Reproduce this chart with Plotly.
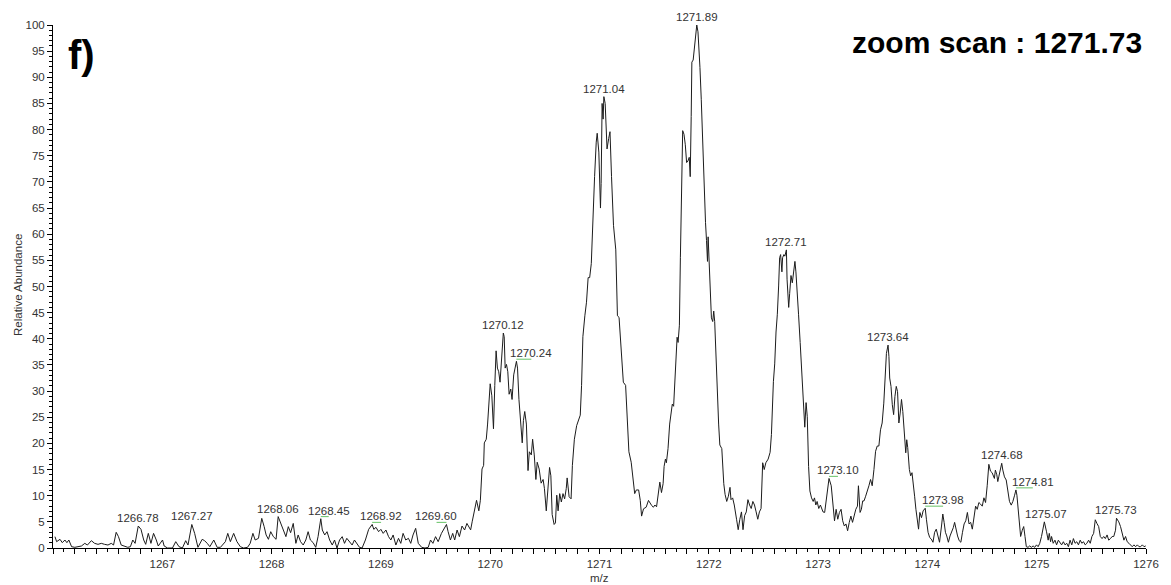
import numpy as np
import plotly.graph_objects as go

# ---------------------------------------------------------------
# Profile spectrum (relative abundance vs m/z), stored per region
# ---------------------------------------------------------------
mz_a = [1266.018, 1266.033, 1266.064, 1266.085, 1266.109, 1266.127, 1266.145, 1266.170, 1266.200, 1266.230,
        1266.260, 1266.291, 1266.315, 1266.351, 1266.381, 1266.412, 1266.442, 1266.472, 1266.503, 1266.533,
        1266.554, 1266.578, 1266.599, 1266.624, 1266.654, 1266.684, 1266.708, 1266.730, 1266.751, 1266.780,
        1266.805, 1266.830, 1266.848, 1266.872, 1266.896, 1266.920, 1266.945, 1266.963, 1267.002, 1267.017,
        1267.048, 1267.093, 1267.123, 1267.153, 1267.184, 1267.214, 1267.235, 1267.270, 1267.296, 1267.326,
        1267.365, 1267.387, 1267.411, 1267.435, 1267.471, 1267.502, 1267.532, 1267.577, 1267.599, 1267.623,
        1267.653, 1267.683, 1267.714, 1267.744, 1267.780, 1267.804, 1267.829, 1267.850, 1267.880, 1267.910,
        1267.932, 1267.950, 1267.971, 1267.992, 1268.016, 1268.041, 1268.060, 1268.083, 1268.107, 1268.131,
        1268.153, 1268.174, 1268.198]
ab_a = [2.17, 1.21, 1.66, 1.02, 1.53, 1.02, 1.53, 0.25, 0.13, 0.25,
        0.38, 0.89, 0.57, 1.40, 0.89, 0.70, 0.89, 0.70, 0.57, 0.89,
        0.57, 3.0, 2.17, 0.57, 0.38, 0.13, 0.25, 1.53, 0.89, 4.2,
        3.57, 1.53, 0.70, 2.8, 0.89, 2.8, 1.53, 0.38, 1.53, 0.38,
        0.0, 0.0, 1.21, 0.25, 0.0, 1.40, 0.57, 4.5, 2.8, 0.13,
        1.66, 1.40, 0.89, 0.25, 1.53, 0.13, 0.13, 1.21, 2.8, 1.21,
        2.8, 1.21, 0.25, 0.0, 0.13, 0.89, 2.8, 1.53, 1.85, 5.67,
        4.08, 2.49, 1.66, 3.12, 2.17, 1.66, 6.0, 4.7, 3.12, 2.17,
        4.08, 2.93, 4.7]

mz_b = [1268.222, 1268.243, 1268.265, 1268.289, 1268.313, 1268.334, 1268.355, 1268.380, 1268.404, 1268.425,
        1268.450, 1268.464, 1268.486, 1268.507, 1268.531, 1268.555, 1268.576, 1268.598, 1268.622, 1268.646,
        1268.667, 1268.688, 1268.713, 1268.737, 1268.758, 1268.779, 1268.804, 1268.828, 1268.858, 1268.888,
        1268.920, 1268.935, 1268.955, 1268.979, 1269.000, 1269.021, 1269.046, 1269.070, 1269.091, 1269.112,
        1269.137, 1269.161, 1269.182, 1269.203, 1269.227, 1269.252, 1269.273, 1269.294, 1269.318, 1269.342,
        1269.373, 1269.403, 1269.433, 1269.454, 1269.476, 1269.500, 1269.524, 1269.554, 1269.600, 1269.615,
        1269.636, 1269.657, 1269.675, 1269.697, 1269.718, 1269.742, 1269.766, 1269.787]
ab_b = [0.89, 2.49, 1.21, 0.57, 1.53, 3.12, 1.53, 1.02, 0.13, 2.17,
        5.6, 3.44, 2.49, 3.12, 1.53, 0.57, 1.53, 0.0, 1.53, 2.17,
        0.89, 1.85, 1.21, 0.57, 1.53, 0.89, 0.13, 0.0, 1.53, 3.57,
        4.5, 3.57, 3.95, 3.12, 3.57, 2.8, 3.44, 2.17, 1.53, 2.49,
        0.57, 1.85, 0.89, 2.8, 1.53, 1.85, 0.89, 2.49, 3.76, 0.89,
        0.13, 0.0, 0.13, 1.53, 0.89, 2.17, 1.21, 2.8, 4.5, 3.12,
        1.53, 2.8, 1.53, 3.44, 2.17, 4.2, 3.44, 4.7]

mz_c = [1269.821, 1269.836, 1269.857, 1269.875, 1269.896, 1269.910, 1269.925, 1269.940, 1269.946, 1269.964,
        1269.976, 1269.988, 1270.000, 1270.015, 1270.030, 1270.042, 1270.054, 1270.066, 1270.078, 1270.090,
        1270.101, 1270.120, 1270.128, 1270.137, 1270.149, 1270.161, 1270.173, 1270.188, 1270.200, 1270.215,
        1270.240, 1270.250, 1270.263, 1270.278, 1270.293, 1270.304, 1270.316, 1270.331, 1270.346, 1270.358,
        1270.376, 1270.388, 1270.403, 1270.418, 1270.430, 1270.448, 1270.466, 1270.484, 1270.496, 1270.513,
        1270.528, 1270.543, 1270.555, 1270.567, 1270.585, 1270.597, 1270.609, 1270.621, 1270.636, 1270.651,
        1270.666, 1270.681, 1270.696, 1270.704, 1270.722, 1270.740, 1270.752, 1270.770, 1270.791, 1270.806,
        1270.824, 1270.836, 1270.848, 1270.866, 1270.881, 1270.896, 1270.910, 1270.925, 1270.940, 1270.955,
        1270.970, 1270.979, 1270.994, 1271.009, 1271.015, 1271.024, 1271.033, 1271.040, 1271.052, 1271.069,
        1271.084, 1271.096, 1271.110, 1271.128, 1271.149, 1271.164, 1271.179, 1271.194, 1271.218, 1271.239,
        1271.254, 1271.269, 1271.290, 1271.307, 1271.322, 1271.337, 1271.358, 1271.373, 1271.385, 1271.403,
        1271.427, 1271.448, 1271.463, 1271.478, 1271.493]
ab_c = [3.46, 5.12, 7.11, 9.12, 7.11, 9.12, 15.1, 15.8, 20.1, 20.8,
        23.7, 27.7, 31.4, 29.1, 22.8, 31.1, 37.7, 34.4, 33.7, 31.7,
        35.7, 41.1, 40.4, 34.4, 35.1, 33.7, 29.4, 30.4, 28.4, 33.1,
        35.7, 34.4, 28.4, 23.7, 20.1, 24.4, 26.1, 23.7, 14.8, 18.4,
        17.8, 20.8, 17.8, 13.1, 16.4, 15.1, 12.4, 13.1, 11.4, 7.1,
        11.8, 15.4, 13.8, 6.4, 4.5, 4.8, 10.1, 7.1, 10.4, 8.8,
        10.4, 9.4, 11.4, 13.4, 9.8, 9.4, 15.8, 20.8, 23.4, 24.4,
        25.4, 31.1, 40.4, 44.4, 47.0, 51.7, 51.7, 54.4, 63.7, 71.0,
        77.6, 79.3, 75.7, 65.0, 69.7, 85.0, 82.0, 86.3, 85.0, 76.3,
        78.3, 79.6, 71.0, 61.7, 57.0, 44.4, 44.1, 39.7, 31.7, 31.1,
        23.7, 18.4, 16.4, 12.4, 10.4, 11.1, 11.1, 9.1, 6.1, 7.5,
        7.8, 9.1, 8.5, 8.1, 7.8]

mz_d = [1271.507, 1271.522, 1271.537, 1271.552, 1271.567, 1271.582, 1271.591, 1271.603, 1271.612, 1271.627,
        1271.642, 1271.657, 1271.666, 1271.678, 1271.690, 1271.701, 1271.710, 1271.719, 1271.731, 1271.740,
        1271.749, 1271.755, 1271.761, 1271.773, 1271.785, 1271.797, 1271.809, 1271.821, 1271.830, 1271.839,
        1271.845, 1271.857, 1271.869, 1271.881, 1271.890, 1271.901, 1271.910, 1271.919, 1271.931, 1271.943,
        1271.955, 1271.970, 1271.979, 1271.988, 1271.994, 1272.003, 1272.015, 1272.024, 1272.036, 1272.045,
        1272.054, 1272.066, 1272.078, 1272.090, 1272.101, 1272.119, 1272.137, 1272.149, 1272.164, 1272.179,
        1272.194, 1272.203, 1272.218, 1272.233, 1272.254, 1272.269, 1272.284, 1272.299, 1272.313, 1272.328,
        1272.343, 1272.358, 1272.373, 1272.388, 1272.403, 1272.418, 1272.433, 1272.448, 1272.463, 1272.478,
        1272.493, 1272.507, 1272.522, 1272.543, 1272.561, 1272.573, 1272.591, 1272.603, 1272.615, 1272.627,
        1272.639, 1272.648, 1272.657, 1272.669, 1272.675, 1272.687, 1272.696, 1272.710, 1272.716, 1272.731,
        1272.740, 1272.752, 1272.764, 1272.776, 1272.788, 1272.797, 1272.812, 1272.821, 1272.836, 1272.851,
        1272.866, 1272.878, 1272.890, 1272.901, 1272.913, 1272.925, 1272.940, 1272.955, 1272.967, 1272.979,
        1272.991, 1273.006, 1273.021, 1273.033, 1273.045]
ab_d = [8.22, 7.88, 10.25, 12.6, 10.6, 12.3, 15.6, 17.0, 16.3, 19.0,
        23.7, 26.4, 27.5, 27.1, 33.2, 38.6, 40.3, 39.3, 42.6, 55.5,
        67.6, 75.7, 79.8, 79.1, 77.1, 73.7, 74.0, 74.7, 71.0, 82.5,
        92.9, 93.3, 96.0, 97.6, 100.0, 98.7, 96.0, 91.9, 85.8, 77.7,
        70.3, 62.2, 58.8, 54.8, 59.5, 54.8, 45.3, 44.0, 43.3, 45.3,
        43.3, 35.9, 28.5, 23.7, 19.7, 19.0, 12.3, 10.25, 8.9, 9.9,
        11.6, 9.24, 9.58, 8.22, 5.5, 3.5, 5.5, 6.9, 3.5, 6.2,
        6.9, 9.24, 8.22, 7.55, 8.9, 8.22, 6.9, 5.5, 6.9, 7.55,
        16.3, 15.0, 16.3, 17.0, 18.3, 21.7, 31.8, 35.2, 41.3, 44.7,
        50.1, 55.5, 56.1, 52.8, 55.5, 56.1, 55.8, 57.0, 51.4, 46.0,
        48.7, 52.1, 50.7, 53.4, 54.8, 52.8, 48.7, 44.7, 39.3, 33.9,
        29.1, 23.1, 27.8, 25.1, 15.6, 10.9, 9.58, 8.9, 9.58, 8.22,
        8.9, 7.55, 8.22, 7.55, 6.9]

mz_e = [1273.060, 1273.075, 1273.090, 1273.100, 1273.120, 1273.135, 1273.150, 1273.165, 1273.180, 1273.195,
        1273.210, 1273.225, 1273.240, 1273.255, 1273.270, 1273.285, 1273.300, 1273.315, 1273.330, 1273.345,
        1273.360, 1273.369, 1273.384, 1273.396, 1273.408, 1273.420, 1273.435, 1273.450, 1273.465, 1273.480,
        1273.495, 1273.511, 1273.526, 1273.541, 1273.556, 1273.571, 1273.586, 1273.601, 1273.616, 1273.625,
        1273.640, 1273.648, 1273.655, 1273.667, 1273.679, 1273.691, 1273.703, 1273.715, 1273.727, 1273.739,
        1273.751, 1273.763, 1273.775, 1273.787, 1273.802, 1273.811, 1273.820, 1273.835, 1273.847, 1273.859,
        1273.871, 1273.883, 1273.895, 1273.907, 1273.919, 1273.931, 1273.946, 1273.961, 1273.980, 1273.991,
        1274.006, 1274.021, 1274.036, 1274.051, 1274.066, 1274.081, 1274.096, 1274.111, 1274.129, 1274.141,
        1274.153, 1274.165, 1274.177, 1274.192, 1274.207, 1274.222, 1274.237, 1274.249, 1274.261, 1274.276,
        1274.291, 1274.306, 1274.321, 1274.336, 1274.351, 1274.366, 1274.381, 1274.396, 1274.411, 1274.426,
        1274.441, 1274.456, 1274.471, 1274.486, 1274.502, 1274.517, 1274.532, 1274.547, 1274.562, 1274.577,
        1274.592]
ab_e = [6.8, 9.3, 11.9, 13.3, 11.9, 8.0, 5.2, 7.4, 5.5, 6.8,
        7.4, 5.2, 4.2, 4.6, 3.3, 4.9, 6.1, 4.9, 6.1, 7.4,
        8.0, 11.9, 6.8, 7.4, 9.0, 9.0, 9.9, 11.2, 11.9, 13.1,
        11.9, 15.0, 18.5, 19.5, 19.5, 22.6, 23.9, 27.7, 33.4, 37.2,
        38.8, 36.6, 32.5, 30.9, 27.4, 25.5, 29.0, 30.9, 29.9, 23.9,
        25.8, 28.4, 26.1, 21.4, 18.2, 20.7, 19.2, 15.0, 13.8, 14.4,
        12.5, 9.9, 7.4, 5.5, 3.6, 6.8, 5.8, 7.1, 7.6, 5.5,
        3.0, 2.0, 1.7, 1.1, 3.0, 3.6, 2.3, 1.1, 4.2, 6.5,
        4.9, 3.0, 2.3, 1.1, 2.3, 3.0, 3.9, 4.9, 3.6, 2.3,
        1.4, 1.1, 3.0, 4.6, 5.2, 6.8, 4.6, 4.9, 3.6, 5.5,
        8.0, 7.4, 8.7, 8.4, 8.0, 9.6, 8.7, 11.9, 16.0, 14.7,
        14.4]

mz_f = [1274.613, 1274.622, 1274.635, 1274.644, 1274.653, 1274.665, 1274.680, 1274.690, 1274.705, 1274.721,
        1274.736, 1274.751, 1274.767, 1274.782, 1274.798, 1274.810, 1274.819, 1274.831, 1274.844, 1274.853,
        1274.868, 1274.881, 1274.893, 1274.905, 1274.921, 1274.936, 1274.951, 1274.967, 1274.982, 1274.998,
        1275.013, 1275.028, 1275.044, 1275.059, 1275.070, 1275.090, 1275.105, 1275.115, 1275.127, 1275.136,
        1275.151, 1275.167, 1275.182, 1275.198, 1275.213, 1275.228, 1275.244, 1275.259, 1275.275, 1275.290,
        1275.305, 1275.321, 1275.336, 1275.351, 1275.367, 1275.382, 1275.398, 1275.413, 1275.428, 1275.444,
        1275.459, 1275.475, 1275.490, 1275.505, 1275.521, 1275.536, 1275.551, 1275.567, 1275.582, 1275.598,
        1275.613, 1275.628, 1275.644, 1275.659, 1275.675, 1275.690, 1275.705, 1275.721, 1275.730, 1275.751,
        1275.767, 1275.782, 1275.798, 1275.813, 1275.828, 1275.844, 1275.859, 1275.874, 1275.890, 1275.905,
        1275.921, 1275.936, 1275.951, 1275.967, 1275.982, 1275.998]
ab_f = [13.3, 14.9, 14.0, 12.7, 13.6, 14.9, 16.2, 14.9, 13.6, 13.0,
        10.8, 8.9, 8.2, 8.9, 10.1, 11.1, 10.1, 6.9, 5.0, 2.2,
        3.4, 4.1, 2.2, 0.25, 0.13, 0.4, 0.13, 0.4, 0.13, 0.6,
        0.25, 0.9, 2.2, 4.1, 5.0, 3.1, 1.5, 2.8, 1.2, 2.2,
        0.9, 1.5, 0.6, 1.5, 0.9, 0.6, 1.2, 0.6, 0.9, 0.25,
        1.5, 0.6, 1.8, 0.9, 1.2, 0.6, 1.5, 0.9, 1.2, 0.6,
        0.9, 1.5, 0.9, 2.2, 2.8, 5.4, 4.7, 4.1, 2.2, 1.8,
        2.2, 1.8, 2.5, 1.5, 1.8, 2.2, 2.2, 3.4, 5.7, 5.0,
        4.1, 2.8, 1.5, 2.2, 1.2, 0.9, 0.6, 0.25, 0.6, 0.25,
        0.6, 0.25, 0.25, 0.6, 0.25, 0.4]

# Labelled peaks: m/z and apex abundance
peak_mz = [1266.78, 1267.27, 1268.06, 1268.45, 1268.92, 1269.60, 1270.12, 1270.24, 1271.04,
           1271.89, 1272.71, 1273.10, 1273.64, 1273.98, 1274.68, 1274.81, 1275.07, 1275.73]
peak_ab = [4.2, 4.5, 6.0, 5.6, 4.5, 4.5, 41.1, 35.7, 86.3,
           100.0, 57.0, 13.3, 38.8, 7.6, 16.2, 11.1, 5.0, 5.7]

x_tick_labels = [1267, 1268, 1269, 1270, 1271, 1272, 1273, 1274, 1275, 1276]

# ---------------------------------------------------------------
# Layout constants
# ---------------------------------------------------------------
W, H = 1171, 585
ML, MR, MT, MB = 53, 17, 25, 37
X_RANGE = [1266, 1276]
px_per_mz = (W - ML - MR) / (X_RANGE[1] - X_RANGE[0])

# label text offset (px) from its apex; a green leader is drawn when offset
label_dx = [0, 0, 0, 8, 9, -10, 0, 15, 0, 0, 0, 9, 0, 18, 0, 17, 2, 0]

FONT = "Arial, Liberation Sans, sans-serif"
TXT = "#333333"

mz = np.concatenate([mz_a, mz_b, mz_c, mz_d, mz_e, mz_f])
ab = np.concatenate([ab_a, ab_b, ab_c, ab_d, ab_e, ab_f])

fig = go.Figure()
fig.add_trace(go.Scatter(
    x=mz, y=ab, mode="lines",
    line=dict(color="#1c1c1c", width=1),
    hoverinfo="skip", showlegend=False,
))

# peak labels with optional leader lines
for m, a, dx in zip(peak_mz, peak_ab, label_dx):
    fig.add_annotation(
        x=m, y=a, text=f"{m:.2f}", showarrow=False,
        xshift=dx, yshift=8, xanchor="center", yanchor="middle",
        font=dict(family=FONT, size=11.5, color=TXT),
    )
    if abs(dx) > 3:
        fig.add_shape(
            type="line", xref="x", yref="y",
            x0=m, x1=m + dx / px_per_mz, y0=a + 0.4, y1=a + 0.4,
            line=dict(color="#66c266", width=1),
        )

# panel letter and scan description
fig.add_annotation(
    xref="paper", yref="paper", x=(82 - ML) / (W - ML - MR), y=(H - MB - 55) / (H - MT - MB),
    text="<b>f)</b>", showarrow=False, xanchor="center", yanchor="middle",
    font=dict(family=FONT, size=40, color="black"),
)
fig.add_annotation(
    xref="paper", yref="paper", x=(1142 - ML) / (W - ML - MR), y=(H - MB - 42) / (H - MT - MB),
    xshift=10,
    text="<b>zoom scan : 1271.73</b>", showarrow=False, xanchor="right", yanchor="middle",
    font=dict(family=FONT, size=30, color="black"),
)

# axis titles
fig.add_annotation(
    xref="paper", yref="paper", x=0, y=(H - MB - 285) / (H - MT - MB), xshift=-(ML - 18),
    text="Relative Abundance", textangle=-90, showarrow=False,
    xanchor="center", yanchor="middle", font=dict(family=FONT, size=11.5, color=TXT),
)
fig.add_annotation(
    xref="paper", yref="paper", x=0.5, y=0, yshift=-30,
    text="m/z", showarrow=False, xanchor="center", yanchor="middle",
    font=dict(family=FONT, size=11.5, color=TXT),
)

major_x = np.round(np.arange(X_RANGE[0], X_RANGE[1] + 0.001, 0.2), 1)
major_txt = [str(int(round(v))) if abs(v - round(v)) < 1e-6 and int(round(v)) in x_tick_labels else ""
             for v in major_x]

fig.update_layout(
    width=W, height=H,
    margin=dict(l=ML, r=MR, t=MT, b=MB),
    plot_bgcolor="white", paper_bgcolor="white",
    showlegend=False,
    xaxis=dict(
        range=X_RANGE, showgrid=False, zeroline=False,
        showline=True, linecolor="black", linewidth=1,
        ticks="outside", ticklen=5, tickwidth=1, tickcolor="black",
        tickmode="array", tickvals=major_x, ticktext=major_txt,
        tickfont=dict(family=FONT, size=11.5, color=TXT),
        minor=dict(ticks="outside", ticklen=3, tickcolor="black", tickmode="linear",
                   tick0=X_RANGE[0], dtick=0.1, showgrid=False),
    ),
    yaxis=dict(
        range=[0, 100], showgrid=False, zeroline=False,
        showline=True, linecolor="black", linewidth=1,
        ticks="outside", ticklen=5, tickwidth=1, tickcolor="black",
        tickmode="linear", tick0=0, dtick=5,
        tickfont=dict(family=FONT, size=11.5, color=TXT),
        minor=dict(ticks="outside", ticklen=3, tickcolor="black", tickmode="linear",
                   tick0=0, dtick=1, showgrid=False),
    ),
)

fig.write_html("out.html")
